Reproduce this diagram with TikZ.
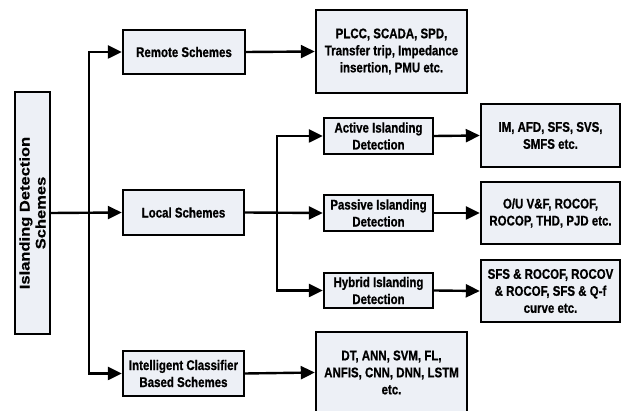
\documentclass[tikz,border=0pt]{standalone}
\usepackage{fontspec}
\usetikzlibrary{arrows.meta}
\newfontfamily\boxfont{Liberation Sans}[FakeStretch=0.82, BoldFeatures={FakeStretch=0.82, FakeBold=0.8}]
\newfontfamily\widefont{Liberation Sans}[FakeStretch=1.18, BoldFeatures={FakeStretch=1.18, FakeBold=0.6}]
\definecolor{boxfill}{RGB}{237,240,246}
\begin{document}
\begin{tikzpicture}[x=1pt,y=-1pt,
  blk/.style={draw=black, line width=2.4pt, fill=boxfill, rectangle,
    inner sep=0pt, align=center, text=black,
    font=\boxfont\bfseries\fontsize{14}{17}\selectfont},
  conn/.style={line width=2.4pt, draw=black,
    -{Triangle[length=14pt,width=13pt]}}]
\useasboundingbox (0,0) rectangle (622,411);
\clip (0,0) rectangle (622,411);

% root (rotated, so width runs along the text)
\node[blk, minimum width=242pt, minimum height=35pt, rotate=90,
      font=\widefont\bfseries\fontsize{14}{16}\selectfont]
  (root) at (32.5,213) {Islanding Detection\\Schemes};

% first level
\node[blk, minimum width=122pt, minimum height=44pt] (remote) at (184,52) {Remote Schemes};
\node[blk, minimum width=121pt, minimum height=45pt] (local) at (183.5,212.5) {Local Schemes};
\node[blk, minimum width=121pt, minimum height=45pt] (intel) at (183.5,373.5) {Intelligent Classifier\\Based Schemes};

% local sub-schemes
\node[blk, minimum width=109pt, minimum height=36pt] (active) at (378.5,136) {Active Islanding\\Detection};
\node[blk, minimum width=109pt, minimum height=36pt] (passive) at (378.5,213) {Passive Islanding\\Detection};
\node[blk, minimum width=109pt, minimum height=35pt] (hybrid) at (378.5,290.5) {Hybrid Islanding\\Detection};

% technique lists
\node[blk, minimum width=151pt, minimum height=83pt] (plcc) at (391.5,51.5) {PLCC, SCADA, SPD,\\Transfer trip, Impedance\\insertion, PMU etc.};
\node[blk, minimum width=139pt, minimum height=63pt] (im) at (550.5,135.5) {IM, AFD, SFS, SVS,\\SMFS etc.};
\node[blk, minimum width=139pt, minimum height=62pt] (ou) at (550.5,213) {O/U V\&F, ROCOF,\\ROCOP, THD, PJD etc.};
\node[blk, minimum width=139pt, minimum height=62pt] (sfs) at (550.5,291) {SFS \& ROCOF, ROCOV\\\& ROCOF, SFS \& Q-f\\curve etc.};
\node[blk, minimum width=151pt, minimum height=81pt] (dt) at (391.5,372.5) {DT, ANN, SVM, FL,\\ANFIS, CNN, DNN, LSTM\\etc.};

% branching points
\coordinate (t1) at (89,213);
\coordinate (t2) at (277,213);

% connectors
\draw[conn] (root.south) -- (local.west);
\draw[conn] (t1) |- (remote.west);
\draw[conn] (t1) |- (intel.west);
\draw[conn] (remote.east) -- (plcc.west);
\draw[conn] (intel.east) -- (dt.west);
\draw[conn] (local.east) -- (passive.west);
\draw[conn] (t2) |- (active.west);
\draw[conn] (t2) |- (hybrid.west);
\draw[conn] (active.east) -- (im.west);
\draw[conn] (passive.east) -- (ou.west);
\draw[conn] (hybrid.east) -- (sfs.west);
\end{tikzpicture}
\end{document}
